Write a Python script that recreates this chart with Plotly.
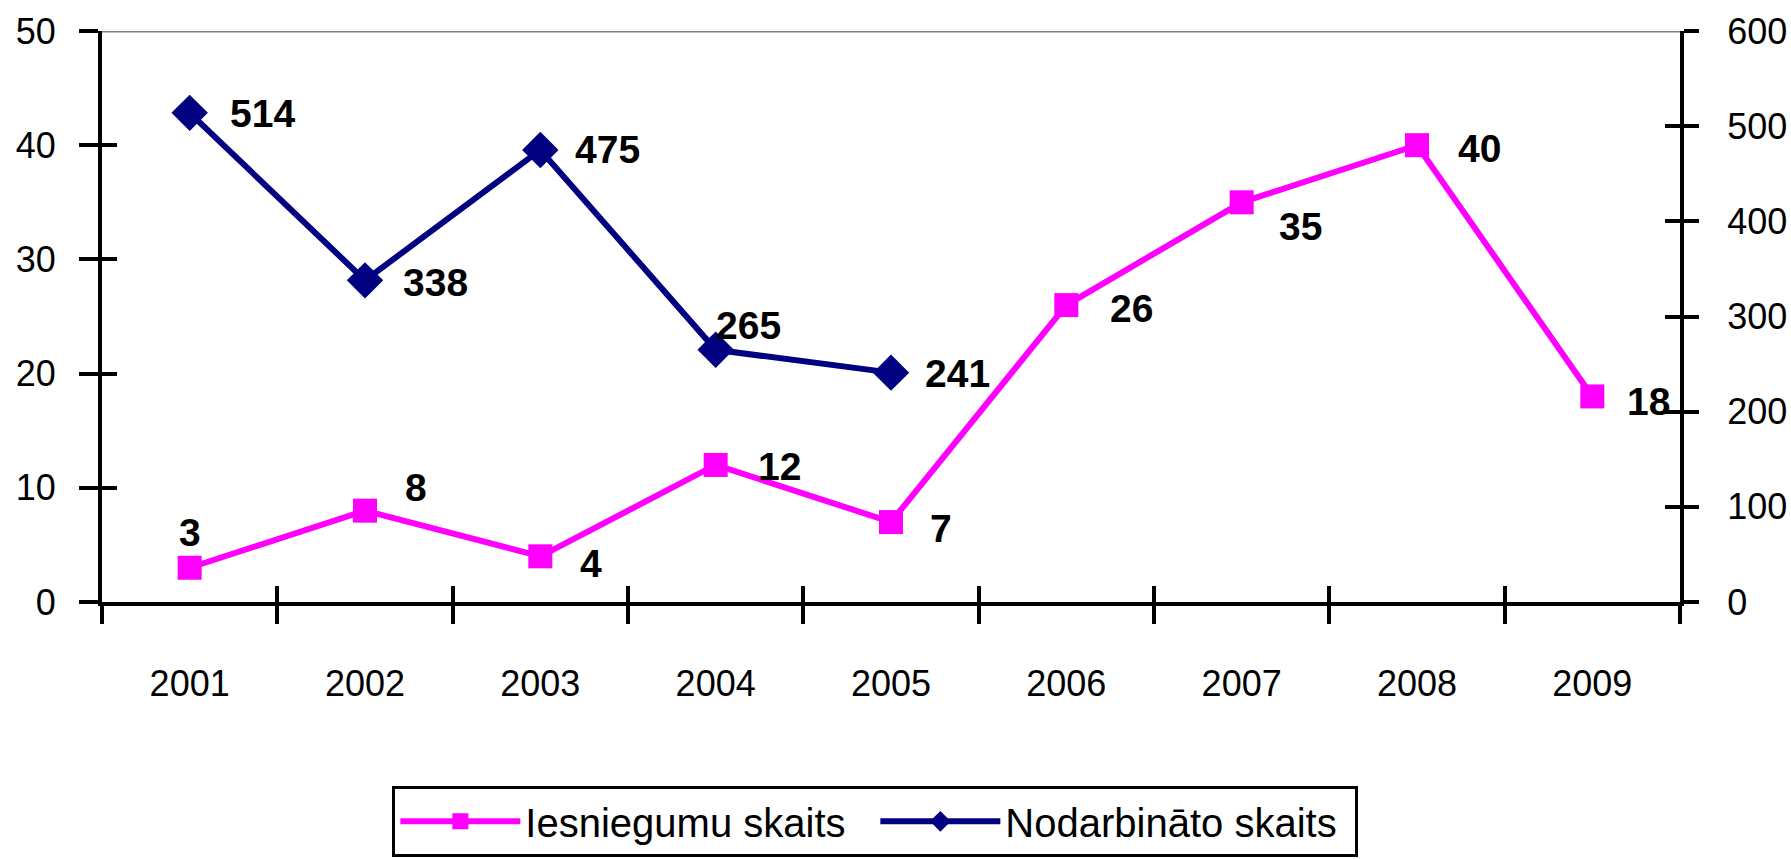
import plotly.graph_objects as go

years = ["2001", "2002", "2003", "2004", "2005", "2006", "2007", "2008", "2009"]
iesniegumu = [3, 8, 4, 12, 7, 26, 35, 40, 18]
nodarbinato_years = ["2001", "2002", "2003", "2004", "2005"]
nodarbinato = [514, 338, 475, 265, 241]

# label offsets (px) relative to each point: (dx, dy)
iesn_offsets = [(0, -35), (51, -23), (51, 7), (64, 2), (50, 6), (65, 3), (59, 24), (62, 3), (56, 5)]
nod_offsets = [(73, 1), (70, 2), (67, 0), (33, -24), (66, 1)]

MAGENTA = "#FF00FF"
NAVY = "#000080"
FONT = "Liberation Sans, Arial, sans-serif"

fig = go.Figure()
fig.add_trace(go.Scatter(
    x=years, y=iesniegumu, name="Iesniegumu skaits", mode="lines+markers",
    line=dict(color=MAGENTA, width=6),
    marker=dict(symbol="square", size=24, color=MAGENTA),
    xaxis="x", yaxis="y"))
fig.add_trace(go.Scatter(
    x=nodarbinato_years, y=nodarbinato, name="Nodarbināto skaits", mode="lines+markers",
    line=dict(color=NAVY, width=6),
    marker=dict(symbol="diamond", size=28, color=NAVY),
    xaxis="x", yaxis="y2"))
# helper traces for inside tick overlay axes
fig.add_trace(go.Scatter(x=[None], y=[None], xaxis="x2", yaxis="y3", showlegend=False, hoverinfo="skip"))
fig.add_trace(go.Scatter(x=[None], y=[None], xaxis="x2", yaxis="y4", showlegend=False, hoverinfo="skip"))

label_font = dict(family=FONT, size=39, color="black", weight="bold")
ann = []
for x, v, (dx, dy) in zip(years, iesniegumu, iesn_offsets):
    ann.append(dict(x=years.index(x), y=v, xref="x", yref="y", text=str(v), showarrow=False,
                    xshift=dx, yshift=-dy, font=label_font))
for x, v, (dx, dy) in zip(nodarbinato_years, nodarbinato, nod_offsets):
    ann.append(dict(x=years.index(x), y=v, xref="x", yref="y2", text=str(v), showarrow=False,
                    xshift=dx, yshift=-dy, font=label_font))

tickfont = dict(family=FONT, size=36, color="black")
boundaries = [i - 0.5 for i in range(len(years) + 1)]

fig.update_layout(
    width=1791, height=859,
    margin=dict(l=102, r=111, t=31, b=257, autoexpand=False),
    paper_bgcolor="white", plot_bgcolor="white",
    showlegend=True,
    annotations=ann,
    xaxis=dict(type="category", range=[-0.5, 8.5], tickson="boundaries",
               ticks="outside", ticklen=18, tickwidth=3.5, tickcolor="black",
               showline=True, linewidth=4, linecolor="black",
               showgrid=False, zeroline=False, tickfont=tickfont,
               ticklabelstandoff=47, automargin=False),
    xaxis2=dict(overlaying="x", anchor="y3", type="linear", range=[-0.5, 8.5],
                tickvals=boundaries, ticks="inside", ticklen=16, tickwidth=3.5, tickcolor="black",
                showticklabels=False, showline=False, showgrid=False, zeroline=False, automargin=False),
    yaxis=dict(range=[0, 50], tickvals=[0, 10, 20, 30, 40, 50],
               ticks="outside", ticklen=19, tickwidth=3.5, tickcolor="black",
               showline=True, linewidth=4, linecolor="black",
               showgrid=False, zeroline=False, tickfont=tickfont,
               ticklabelstandoff=16, automargin=False),
    yaxis2=dict(range=[0, 600], tickvals=[0, 100, 200, 300, 400, 500, 600],
                overlaying="y", side="right", anchor="x",
                ticks="outside", ticklen=15, tickwidth=3.5, tickcolor="black",
                showline=True, linewidth=4, linecolor="black",
                showgrid=False, zeroline=False, tickfont=tickfont,
                ticklabelstandoff=21, automargin=False),
    yaxis3=dict(range=[0, 50], tickvals=[0, 10, 20, 30, 40, 50], overlaying="y", side="left", anchor="x2",
                ticks="inside", ticklen=15, tickwidth=3.5, tickcolor="black",
                showticklabels=False, showline=False, showgrid=False, zeroline=False, automargin=False),
    yaxis4=dict(range=[0, 600], tickvals=[0, 100, 200, 300, 400, 500, 600], overlaying="y", side="right", anchor="x2",
                ticks="inside", ticklen=15, tickwidth=3.5, tickcolor="black",
                showticklabels=False, showline=False, showgrid=False, zeroline=False, automargin=False),
    legend=dict(orientation="h", x=0.184, y=-0.322, xanchor="left", yanchor="top",
                bordercolor="black", borderwidth=3, bgcolor="white",
                font=dict(family=FONT, size=40, color="black"),
                itemwidth=120, entrywidth=345, entrywidthmode="pixels", tracegroupgap=0),
    shapes=[dict(type="line", xref="paper", yref="y", x0=0, x1=1, y0=50, y1=50,
                 line=dict(color="#808080", width=3), layer="below")],
)

fig.write_html("out.html", config={"displayModeBar": False},
               post_script="document.body.style.margin='0';")
